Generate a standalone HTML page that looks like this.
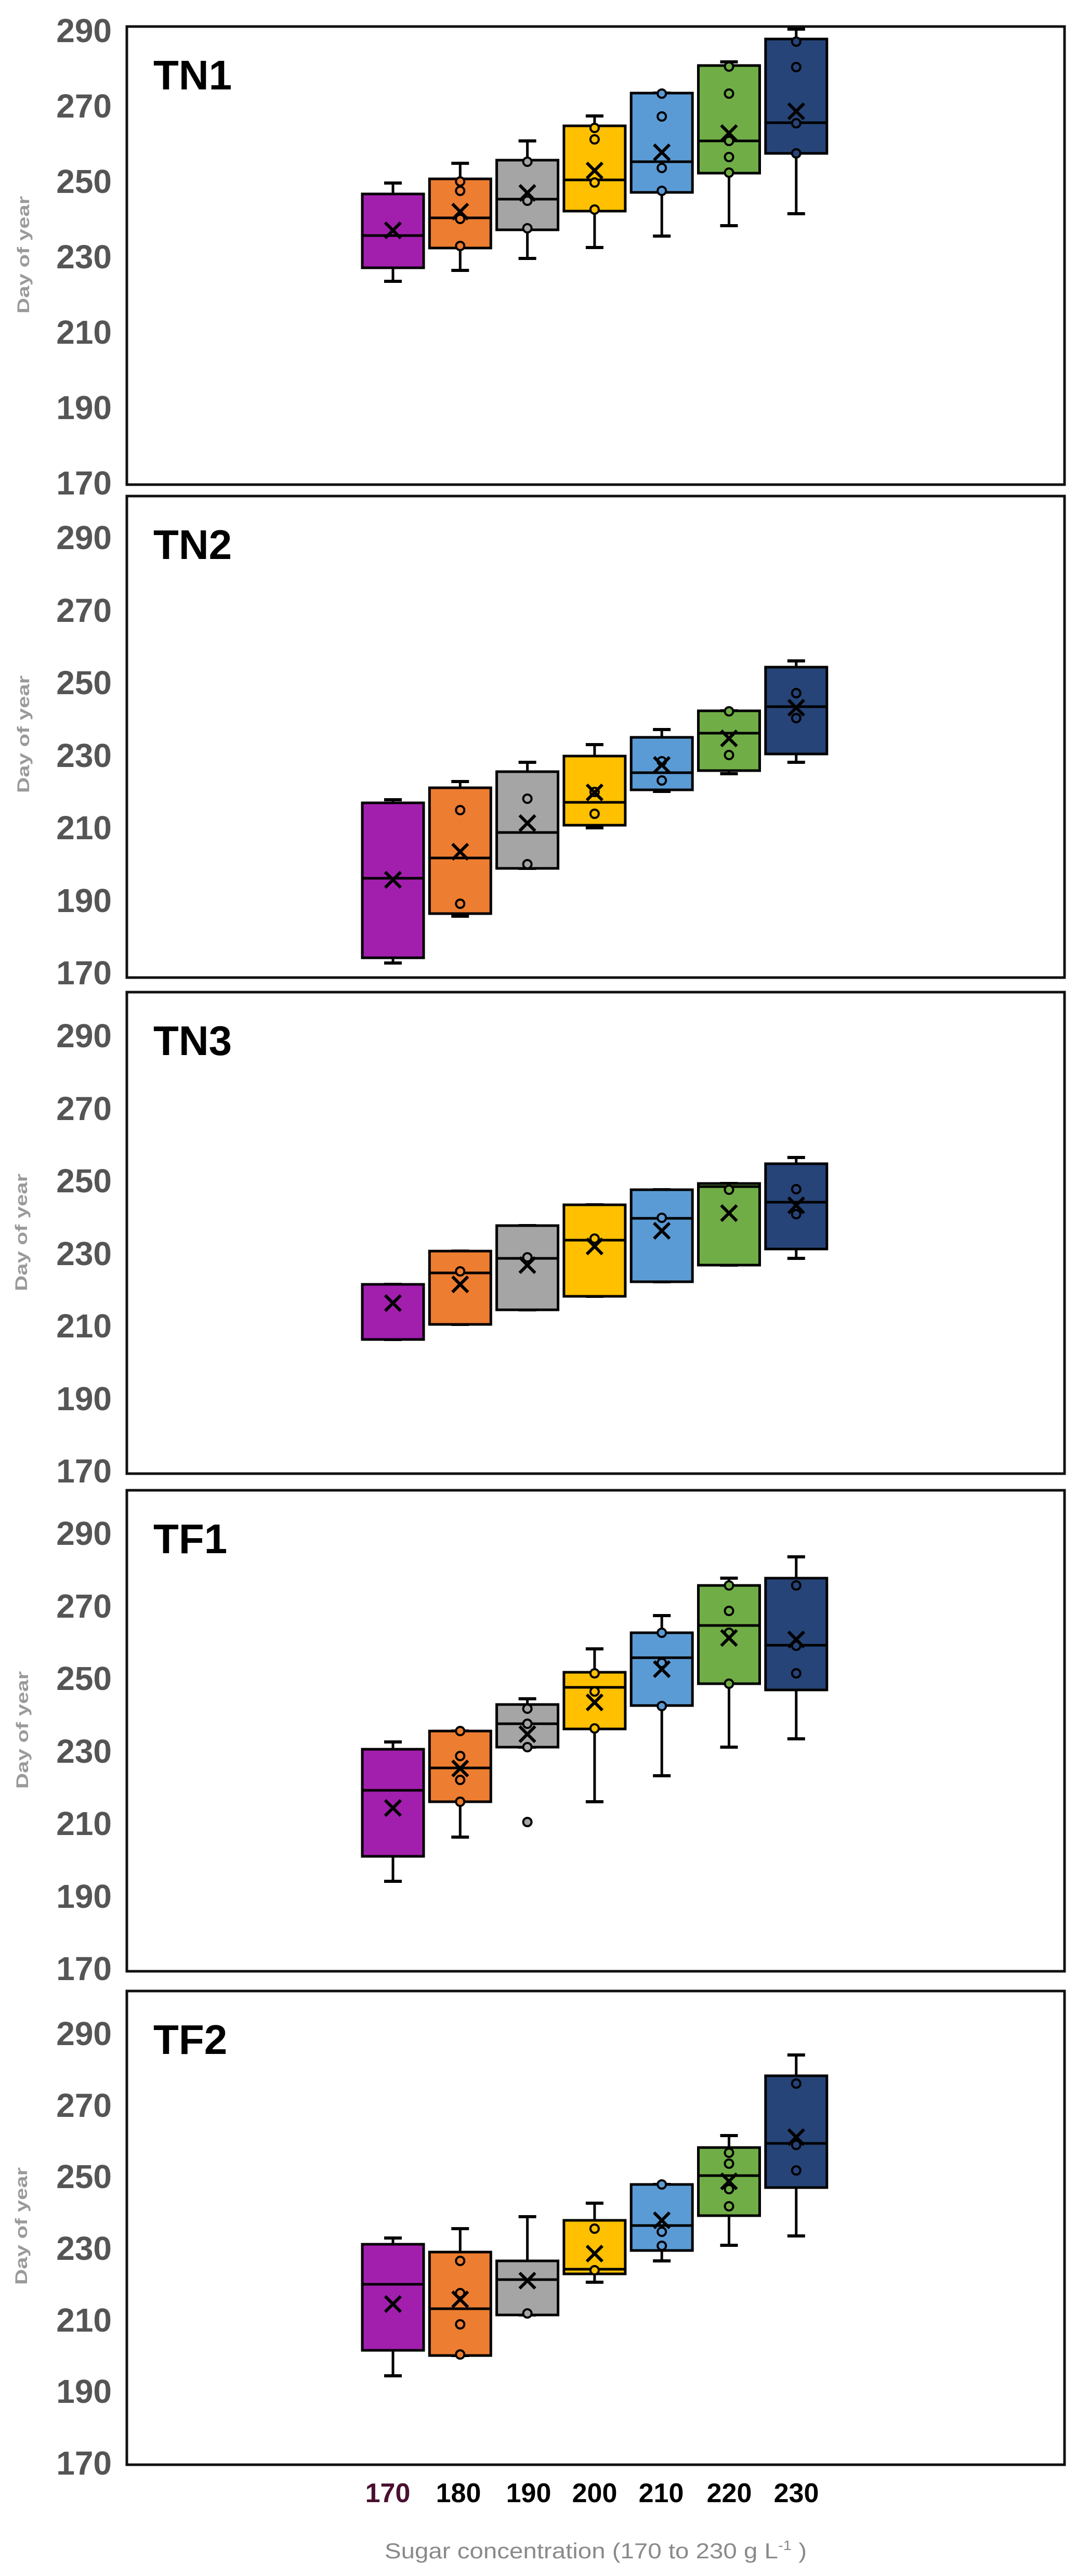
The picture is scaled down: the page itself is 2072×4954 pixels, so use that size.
<!DOCTYPE html>
<html><head><meta charset="utf-8"><style>
html,body{margin:0;padding:0;background:#fff;width:2072px;height:4954px;overflow:hidden}
svg{display:block}
</style></head><body>
<svg id="s" width="2072" height="4954" viewBox="0 0 2072 4954" xmlns="http://www.w3.org/2000/svg">
<rect width="2072" height="4954" fill="#fff"/>
<g id="frames" fill="none" stroke="#111" stroke-width="5">
<rect x="244" y="51" width="1804" height="881"/>
<rect x="244" y="954" width="1804" height="926"/>
<rect x="244" y="1908" width="1804" height="926"/>
<rect x="244" y="2866" width="1804" height="925"/>
<rect x="244" y="3829" width="1804" height="911"/>
</g>
<g font-family="Liberation Sans, sans-serif" font-weight="bold" font-size="64" fill="#555" text-anchor="end">
<text x="215" y="81">290</text><text x="215" y="226">270</text><text x="215" y="371">250</text><text x="215" y="516">230</text><text x="215" y="661">210</text><text x="215" y="806">190</text><text x="215" y="951">170</text>
<text x="215" y="1056">290</text><text x="215" y="1196">270</text><text x="215" y="1335">250</text><text x="215" y="1475">230</text><text x="215" y="1614">210</text><text x="215" y="1754">190</text><text x="215" y="1893">170</text>
<text x="215" y="2014">290</text><text x="215" y="2154">270</text><text x="215" y="2293">250</text><text x="215" y="2433">230</text><text x="215" y="2572">210</text><text x="215" y="2712">190</text><text x="215" y="2851">170</text>
<text x="215" y="2971">290</text><text x="215" y="3111">270</text><text x="215" y="3250">250</text><text x="215" y="3390">230</text><text x="215" y="3529">210</text><text x="215" y="3669">190</text><text x="215" y="3808">170</text>
<text x="215" y="3933">290</text><text x="215" y="4071">270</text><text x="215" y="4208">250</text><text x="215" y="4346">230</text><text x="215" y="4484">210</text><text x="215" y="4621">190</text><text x="215" y="4759">170</text>
</g>
<g font-family="Liberation Sans, sans-serif" font-weight="bold" font-size="32" fill="#9a9a9a" text-anchor="middle">
<text transform="translate(56,490) rotate(-90)" textLength="226" lengthAdjust="spacingAndGlyphs">Day of year</text>
<text transform="translate(56,1412) rotate(-90)" textLength="226" lengthAdjust="spacingAndGlyphs">Day of year</text>
<text transform="translate(52,2370) rotate(-90)" textLength="226" lengthAdjust="spacingAndGlyphs">Day of year</text>
<text transform="translate(54,3327) rotate(-90)" textLength="226" lengthAdjust="spacingAndGlyphs">Day of year</text>
<text transform="translate(52,4281) rotate(-90)" textLength="226" lengthAdjust="spacingAndGlyphs">Day of year</text>
</g>
<g font-family="Liberation Sans, sans-serif" font-weight="bold" font-size="80" fill="#000">
<text x="295" y="172">TN1</text>
<text x="295" y="1075">TN2</text>
<text x="295" y="2029">TN3</text>
<text x="295" y="2987">TF1</text>
<text x="295" y="3950">TF2</text>
</g>
<g id="boxes"></g>
<g font-family="Liberation Sans, sans-serif" font-weight="bold" font-size="52" text-anchor="middle" fill="#000">
<text x="746" y="4812" fill="#4a1030">170</text>
<text x="882" y="4812">180</text>
<text x="1017" y="4812">190</text>
<text x="1144" y="4812">200</text>
<text x="1272" y="4812">210</text>
<text x="1403" y="4812">220</text>
<text x="1532" y="4812">230</text>
</g>
<text x="740" y="4920" font-family="Liberation Sans, sans-serif" font-size="42" fill="#8a8a8a" textLength="812" lengthAdjust="spacingAndGlyphs">Sugar concentration  (170 to 230 g L<tspan dy="-16" font-size="26">-1</tspan><tspan dy="16"> )</tspan></text>
</svg>
<script>
var C=["#A21FAE","#ED7D31","#A5A5A5","#FFC000","#5B9BD5","#70AD47","#264478"];
var D=[
[[373,515,453,443,352,541,[]],[344,477,419,407,314,520,[349,367,421,473]],[308,442,383,371,271,497,[311,386,439]],[242,406,346,328,223,476,[246,268,351,403]],[179,370,311,293,179,454,[180,224,323,367]],[126,333,271,256,119,434,[128,180,271,302,332]],[75,295,236,214,56,411,[80,129,237,295]]],
[[1544,1842,1689,1692,1538,1852,[]],[1515,1757,1650,1638,1503,1762,[1558,1738]],[1484,1670,1601,1583,1466,1670,[1536,1662]],[1454,1587,1543,1524,1432,1592,[1523,1565]],[1418,1519,1486,1471,1403,1522,[1464,1501]],[1367,1482,1410,1420,1367,1488,[1368,1452]],[1283,1450,1359,1361,1271,1466,[1333,1381]]],
[[2470,2576,null,2506,2470,2576,[]],[2406,2547,2448,2470,2406,2547,[2445]],[2357,2519,2420,2433,2357,2519,[2418]],[2317,2493,2385,2397,2317,2493,[2382]],[2288,2465,2343,2367,2288,2465,[2342]],[2276,2433,2282,2333,2276,2433,[2288]],[2238,2402,2312,2318,2226,2420,[2287,2335]]],
[[3364,3570,3443,3477,3350,3618,[]],[3329,3465,3400,3401,3329,3533,[3329,3377,3423,3465]],[3278,3360,3315,3335,3267,3360,[3286,3315,3360,3504]],[3216,3325,3245,3274,3171,3465,[3218,3253,3324]],[3140,3280,3188,3210,3107,3415,[3140,3198,3281]],[3049,3238,3126,3150,3035,3360,[3049,3098,3140,3238]],[3035,3250,3164,3153,2994,3344,[3049,3165,3218]]],
[[4316,4520,4393,4431,4304,4569,[]],[4331,4530,4440,4422,4286,4530,[4348,4410,4470,4528]],[4348,4452,4384,4386,4263,4452,[4449]],[4270,4373,4364,4334,4237,4389,[4286,4366]],[4201,4328,4280,4270,4201,4348,[4201,4292,4319]],[4130,4261,4184,4195,4107,4318,[4140,4161,4210,4243]],[3992,4207,4122,4110,3952,4300,[4007,4125,4174]]]
];
var h="";
D.forEach(function(p){p.forEach(function(b,i){
var c=756+129.3*i,hw=59,col=C[i];
h+='<line x1="'+c+'" y1="'+b[4]+'" x2="'+c+'" y2="'+b[5]+'" stroke="#000" stroke-width="5"/>';
h+='<line x1="'+(c-17)+'" y1="'+b[4]+'" x2="'+(c+17)+'" y2="'+b[4]+'" stroke="#000" stroke-width="6"/>';
h+='<line x1="'+(c-17)+'" y1="'+b[5]+'" x2="'+(c+17)+'" y2="'+b[5]+'" stroke="#000" stroke-width="6"/>';
h+='<rect x="'+(c-hw)+'" y="'+b[0]+'" width="'+(2*hw)+'" height="'+(b[1]-b[0])+'" fill="'+col+'" stroke="#000" stroke-width="5"/>';
if(b[2]!==null)h+='<line x1="'+(c-hw)+'" y1="'+b[2]+'" x2="'+(c+hw)+'" y2="'+b[2]+'" stroke="#000" stroke-width="5"/>';
b[6].forEach(function(y){h+='<circle cx="'+c+'" cy="'+y+'" r="8" fill="'+col+'" stroke="#000" stroke-width="4"/>';});
var m=b[3],s=15;
h+='<path d="M'+(c-s)+' '+(m-s)+'L'+(c+s)+' '+(m+s)+'M'+(c+s)+' '+(m-s)+'L'+(c-s)+' '+(m+s)+'" stroke="#000" stroke-width="6" fill="none"/>';
});});
document.getElementById("boxes").innerHTML=h;
</script>
</body></html>
